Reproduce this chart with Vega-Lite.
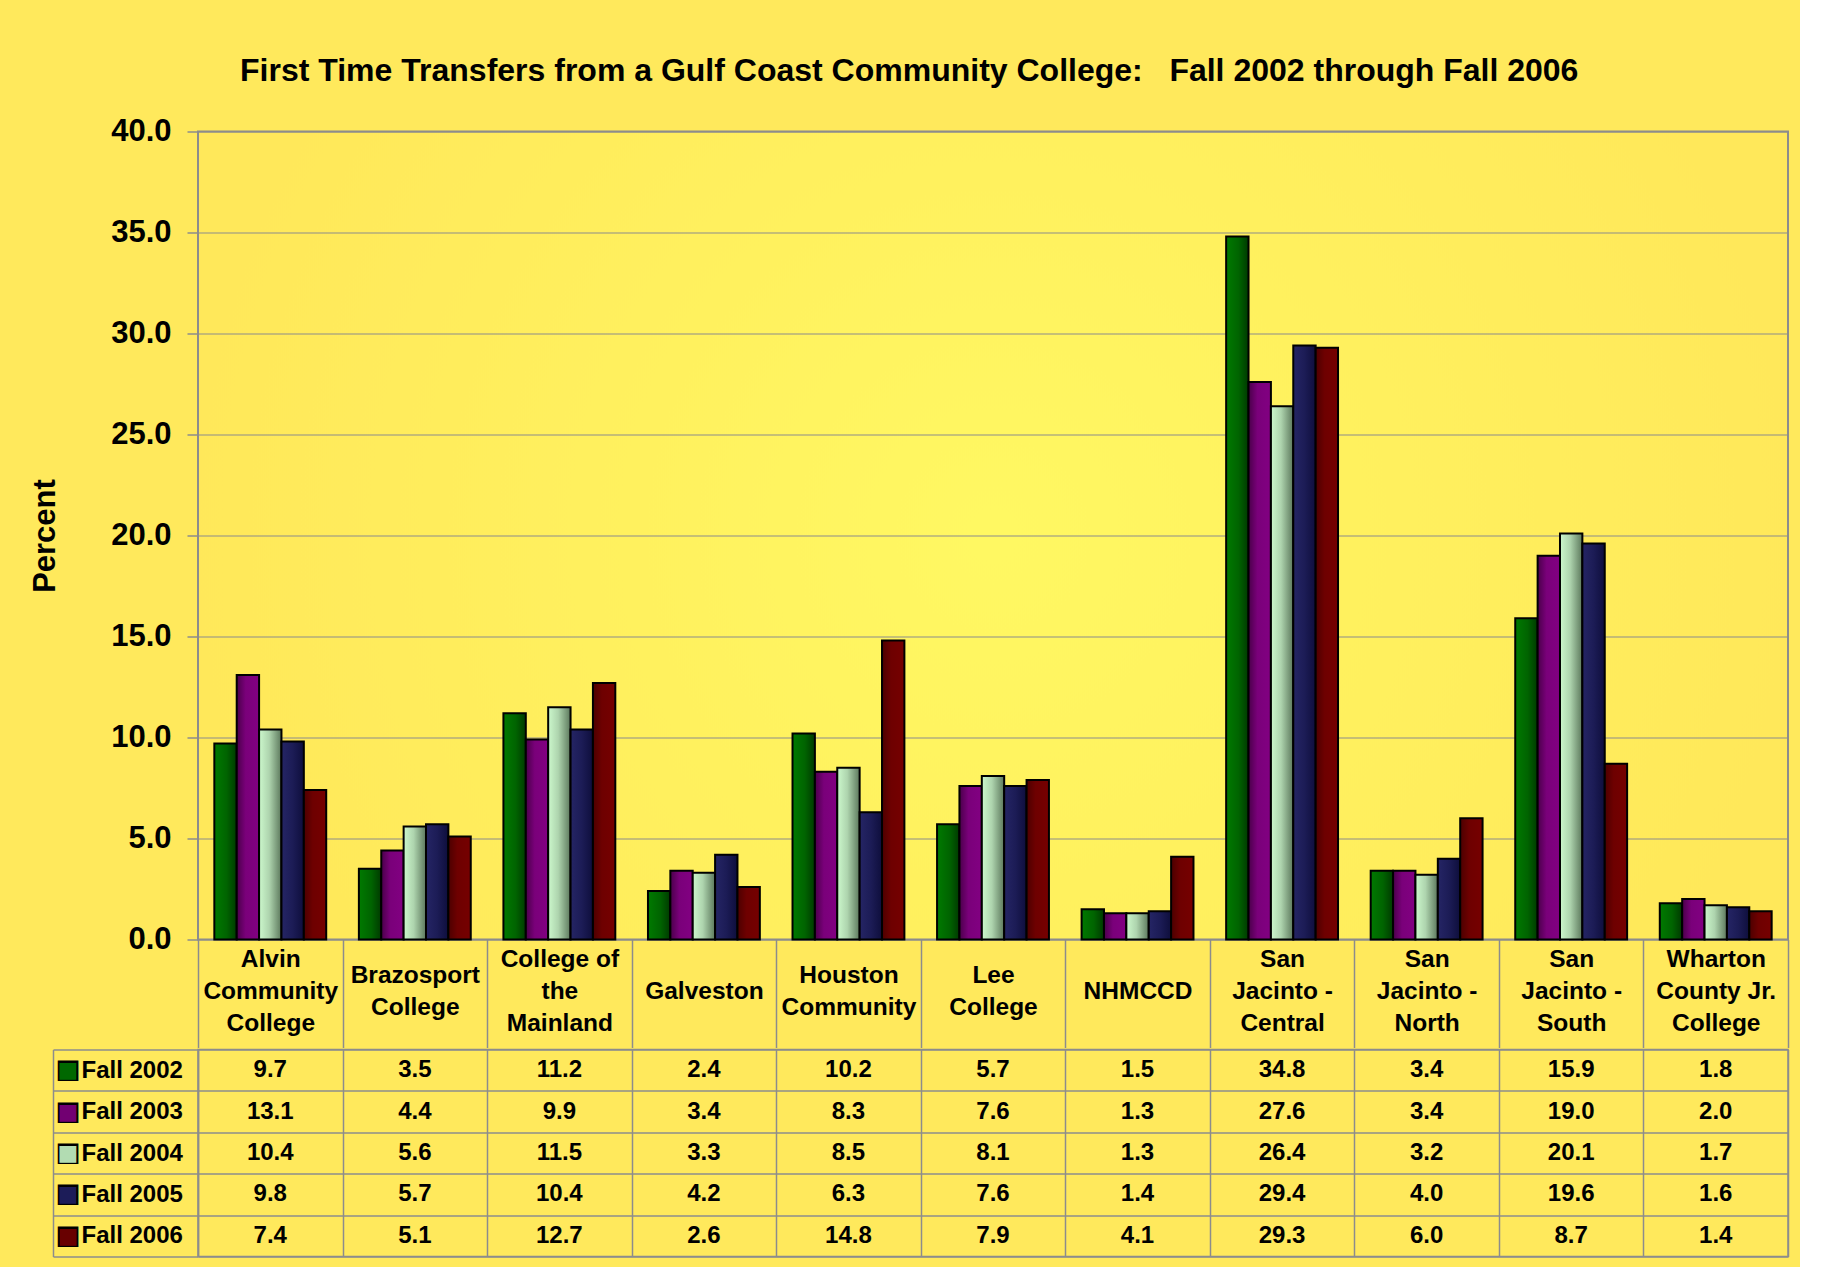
{
  "$schema": "https://vega.github.io/schema/vega-lite/v6.json",
  "background": "#FFE95C",
  "padding": {"left": 28, "top": 54.5, "right": 10, "bottom": 8},
  "title": {
    "text": "First Time Transfers from a Gulf Coast Community College:\u00a0\u00a0 Fall 2002 through Fall 2006",
    "font": "Liberation Sans", "fontSize": 32, "fontWeight": "bold", "color": "black",
    "anchor": "middle", "offset": 26.5
  },
  "config": {"font": "Liberation Sans", "view": {"stroke": null}},
  "datasets": {
    "transfers": [
      {"college": "Alvin Community College", "year": "Fall 2002", "percent": 9.7},
      {"college": "Alvin Community College", "year": "Fall 2003", "percent": 13.1},
      {"college": "Alvin Community College", "year": "Fall 2004", "percent": 10.4},
      {"college": "Alvin Community College", "year": "Fall 2005", "percent": 9.8},
      {"college": "Alvin Community College", "year": "Fall 2006", "percent": 7.4},
      {"college": "Brazosport College", "year": "Fall 2002", "percent": 3.5},
      {"college": "Brazosport College", "year": "Fall 2003", "percent": 4.4},
      {"college": "Brazosport College", "year": "Fall 2004", "percent": 5.6},
      {"college": "Brazosport College", "year": "Fall 2005", "percent": 5.7},
      {"college": "Brazosport College", "year": "Fall 2006", "percent": 5.1},
      {"college": "College of the Mainland", "year": "Fall 2002", "percent": 11.2},
      {"college": "College of the Mainland", "year": "Fall 2003", "percent": 9.9},
      {"college": "College of the Mainland", "year": "Fall 2004", "percent": 11.5},
      {"college": "College of the Mainland", "year": "Fall 2005", "percent": 10.4},
      {"college": "College of the Mainland", "year": "Fall 2006", "percent": 12.7},
      {"college": "Galveston", "year": "Fall 2002", "percent": 2.4},
      {"college": "Galveston", "year": "Fall 2003", "percent": 3.4},
      {"college": "Galveston", "year": "Fall 2004", "percent": 3.3},
      {"college": "Galveston", "year": "Fall 2005", "percent": 4.2},
      {"college": "Galveston", "year": "Fall 2006", "percent": 2.6},
      {"college": "Houston Community", "year": "Fall 2002", "percent": 10.2},
      {"college": "Houston Community", "year": "Fall 2003", "percent": 8.3},
      {"college": "Houston Community", "year": "Fall 2004", "percent": 8.5},
      {"college": "Houston Community", "year": "Fall 2005", "percent": 6.3},
      {"college": "Houston Community", "year": "Fall 2006", "percent": 14.8},
      {"college": "Lee College", "year": "Fall 2002", "percent": 5.7},
      {"college": "Lee College", "year": "Fall 2003", "percent": 7.6},
      {"college": "Lee College", "year": "Fall 2004", "percent": 8.1},
      {"college": "Lee College", "year": "Fall 2005", "percent": 7.6},
      {"college": "Lee College", "year": "Fall 2006", "percent": 7.9},
      {"college": "NHMCCD", "year": "Fall 2002", "percent": 1.5},
      {"college": "NHMCCD", "year": "Fall 2003", "percent": 1.3},
      {"college": "NHMCCD", "year": "Fall 2004", "percent": 1.3},
      {"college": "NHMCCD", "year": "Fall 2005", "percent": 1.4},
      {"college": "NHMCCD", "year": "Fall 2006", "percent": 4.1},
      {"college": "San Jacinto - Central", "year": "Fall 2002", "percent": 34.8},
      {"college": "San Jacinto - Central", "year": "Fall 2003", "percent": 27.6},
      {"college": "San Jacinto - Central", "year": "Fall 2004", "percent": 26.4},
      {"college": "San Jacinto - Central", "year": "Fall 2005", "percent": 29.4},
      {"college": "San Jacinto - Central", "year": "Fall 2006", "percent": 29.3},
      {"college": "San Jacinto - North", "year": "Fall 2002", "percent": 3.4},
      {"college": "San Jacinto - North", "year": "Fall 2003", "percent": 3.4},
      {"college": "San Jacinto - North", "year": "Fall 2004", "percent": 3.2},
      {"college": "San Jacinto - North", "year": "Fall 2005", "percent": 4.0},
      {"college": "San Jacinto - North", "year": "Fall 2006", "percent": 6.0},
      {"college": "San Jacinto - South", "year": "Fall 2002", "percent": 15.9},
      {"college": "San Jacinto - South", "year": "Fall 2003", "percent": 19.0},
      {"college": "San Jacinto - South", "year": "Fall 2004", "percent": 20.1},
      {"college": "San Jacinto - South", "year": "Fall 2005", "percent": 19.6},
      {"college": "San Jacinto - South", "year": "Fall 2006", "percent": 8.7},
      {"college": "Wharton County Jr. College", "year": "Fall 2002", "percent": 1.8},
      {"college": "Wharton County Jr. College", "year": "Fall 2003", "percent": 2.0},
      {"college": "Wharton County Jr. College", "year": "Fall 2004", "percent": 1.7},
      {"college": "Wharton County Jr. College", "year": "Fall 2005", "percent": 1.6},
      {"college": "Wharton County Jr. College", "year": "Fall 2006", "percent": 1.4}
    ]
  },
  "spacing": -20.5,
  "vconcat": [
    {
      "width": 1590,
      "height": 808,
      "data": {"name": "transfers"},
      "view": {
        "stroke": "#8c8c8c", "strokeWidth": 2,
        "fill": {"gradient": "radial", "stops": [{"offset": 0, "color": "#FFF862"}, {"offset": 1, "color": "#FFE85A"}]}
      },
      "encoding": {
        "x": {
          "field": "college", "type": "nominal",
          "scale": {"domain": ["Alvin Community College", "Brazosport College", "College of the Mainland", "Galveston", "Houston Community", "Lee College", "NHMCCD", "San Jacinto - Central", "San Jacinto - North", "San Jacinto - South", "Wharton County Jr. College"], "paddingInner": 0, "paddingOuter": 0},
          "axis": {
            "title": null, "orient": "bottom", "domain": false, "grid": false,
            "tickBand": "extent", "ticks": true, "tickSize": 108, "tickColor": "#8c8c8c", "tickWidth": 1.5,
            "labelPadding": -72, "labelAngle": 0, "labelAlign": "center",
            "labelBaseline": {
              "condition": [
                {"test": "indexof(['Galveston','NHMCCD'], datum.value) >= 0", "value": "line-top"},
                {"test": "indexof(['Brazosport College','Houston Community','Lee College'], datum.value) >= 0", "value": "middle"}
              ],
              "value": "line-bottom"
            },
            "labelFont": "Liberation Sans", "labelFontSize": 24.5, "labelFontWeight": "bold", "labelColor": "black",
            "labelLineHeight": 32, "labelLimit": 0,
            "labelExpr": "{'Alvin Community College':['Alvin','Community','College'],'Brazosport College':['Brazosport','College'],'College of the Mainland':['College of','the','Mainland'],'Galveston':'Galveston','Houston Community':['Houston','Community'],'Lee College':['Lee','College'],'NHMCCD':'NHMCCD','San Jacinto - Central':['San','Jacinto -','Central'],'San Jacinto - North':['San','Jacinto -','North'],'San Jacinto - South':['San','Jacinto -','South'],'Wharton County Jr. College':['Wharton','County Jr.','College']}[datum.label]"
          }
        },
        "xOffset": {
          "field": "year", "type": "nominal",
          "scale": {"domain": ["Fall 2002", "Fall 2003", "Fall 2004", "Fall 2005", "Fall 2006"], "paddingInner": 0, "paddingOuter": 0.73}
        },
        "y": {
          "field": "percent", "type": "quantitative",
          "scale": {"domain": [0, 40], "nice": false, "zero": true},
          "axis": {
            "title": "Percent", "titleFont": "Liberation Sans", "titleFontSize": 31, "titleFontWeight": "bold", "titleColor": "black", "titlePadding": 49,
            "values": [0, 5, 10, 15, 20, 25, 30, 35, 40], "format": ".1f",
            "labelFont": "Liberation Sans", "labelFontSize": 31, "labelFontWeight": "bold", "labelColor": "black", "labelPadding": 16, "labelFlush": false,
            "tickSize": 11, "tickColor": "#8c8c8c", "tickWidth": 1.5,
            "domain": false, "grid": true, "gridColor": "#8c8c8c", "gridWidth": 1.2
          }
        }
      },
      "layer": [
        {
          "transform": [{"filter": "datum.year === 'Fall 2002'"}],
          "mark": {"type": "bar", "stroke": "black", "strokeWidth": 2,
            "fill": {"gradient": "linear", "x1": 0, "x2": 1, "y1": 0, "y2": 0, "stops": [{"offset": 0, "color": "#007a00"}, {"offset": 0.55, "color": "#006400"}, {"offset": 1, "color": "#003a00"}]}}
        },
        {
          "transform": [{"filter": "datum.year === 'Fall 2003'"}],
          "mark": {"type": "bar", "stroke": "black", "strokeWidth": 2,
            "fill": {"gradient": "linear", "x1": 0, "x2": 1, "y1": 0, "y2": 0, "stops": [{"offset": 0, "color": "#4a004a"}, {"offset": 0.4, "color": "#7a007a"}, {"offset": 1, "color": "#820082"}]}}
        },
        {
          "transform": [{"filter": "datum.year === 'Fall 2004'"}],
          "mark": {"type": "bar", "stroke": "black", "strokeWidth": 2,
            "fill": {"gradient": "linear", "x1": 0, "x2": 1, "y1": 0, "y2": 0, "stops": [{"offset": 0, "color": "#ccf8cc"}, {"offset": 0.45, "color": "#aed4ae"}, {"offset": 1, "color": "#5c785c"}]}}
        },
        {
          "transform": [{"filter": "datum.year === 'Fall 2005'"}],
          "mark": {"type": "bar", "stroke": "black", "strokeWidth": 2,
            "fill": {"gradient": "linear", "x1": 0, "x2": 1, "y1": 0, "y2": 0, "stops": [{"offset": 0, "color": "#252565"}, {"offset": 0.5, "color": "#1c1c56"}, {"offset": 1, "color": "#0e0e3c"}]}}
        },
        {
          "transform": [{"filter": "datum.year === 'Fall 2006'"}],
          "mark": {"type": "bar", "stroke": "black", "strokeWidth": 2,
            "fill": {"gradient": "linear", "x1": 0, "x2": 1, "y1": 0, "y2": 0, "stops": [{"offset": 0, "color": "#4c0000"}, {"offset": 0.4, "color": "#6e0000"}, {"offset": 1, "color": "#760000"}]}}
        }
      ]
    },
    {
      "width": 1590,
      "height": 207,
      "data": {"name": "transfers"},
      "view": {"stroke": "#8c8c8c", "strokeWidth": 1.5},
      "encoding": {
        "x": {
          "field": "college", "type": "nominal",
          "scale": {"domain": ["Alvin Community College", "Brazosport College", "College of the Mainland", "Galveston", "Houston Community", "Lee College", "NHMCCD", "San Jacinto - Central", "San Jacinto - North", "San Jacinto - South", "Wharton County Jr. College"], "paddingInner": 0, "paddingOuter": 0},
          "axis": {"title": null, "labels": false, "ticks": false, "domain": false, "grid": true, "tickBand": "extent", "gridColor": "#8c8c8c", "gridWidth": 1.5}
        }
      },
      "layer": [
        {
          "mark": {"type": "text", "font": "Liberation Sans", "fontSize": 24, "fontWeight": "bold", "color": "black", "baseline": "middle"},
          "encoding": {
            "y": {
              "field": "year", "type": "nominal",
              "scale": {"domain": ["Fall 2002", "Fall 2003", "Fall 2004", "Fall 2005", "Fall 2006"], "paddingInner": 0, "paddingOuter": 0},
              "axis": {
                "title": null, "orient": "left", "tickBand": "extent", "tickSize": 145, "tickColor": "#8c8c8c", "tickWidth": 1.5,
                "domain": true, "domainColor": "#8c8c8c", "domainWidth": 1.5,
                "grid": true, "gridColor": "#8c8c8c", "gridWidth": 1.5,
                "labelAlign": "left", "labelPadding": -28, "labelBaseline": "middle",
                "labelFont": "Liberation Sans", "labelFontSize": 24, "labelFontWeight": "bold", "labelColor": "black"
              }
            },
            "text": {"field": "percent", "type": "quantitative", "format": ".1f"}
          }
        },
        {
          "mark": {"type": "text", "text": "", "opacity": 0},
          "encoding": {
            "y": {
              "field": "year", "type": "nominal",
              "scale": {"domain": ["Fall 2002", "Fall 2003", "Fall 2004", "Fall 2005", "Fall 2006"], "paddingInner": 0, "paddingOuter": 0},
              "axis": {
                "title": null, "orient": "left", "offset": 145, "ticks": false, "grid": false,
                "domain": true, "domainColor": "#8c8c8c", "domainWidth": 1.5,
                "labelExpr": "'\u25a0'", "labelAlign": "center", "labelPadding": -14.5, "labelBaseline": "middle",
                "labelFont": "DejaVu Sans", "labelFontSize": 27, "labelColor": "black"
              }
            }
          }
        },
        {
          "mark": {"type": "text", "text": "", "opacity": 0},
          "encoding": {
            "y": {
              "field": "year", "type": "nominal",
              "scale": {"domain": ["Fall 2002", "Fall 2003", "Fall 2004", "Fall 2005", "Fall 2006"], "paddingInner": 0, "paddingOuter": 0},
              "axis": {
                "title": null, "orient": "left", "offset": 145, "ticks": false, "grid": false, "domain": false,
                "labelExpr": "'\u25a0'", "labelAlign": "center", "labelPadding": -14.5, "labelBaseline": "middle",
                "labelFont": "DejaVu Sans", "labelFontSize": 22,
                "labelColor": {
                  "condition": [
                    {"test": "datum.value === 'Fall 2002'", "value": "#006800"},
                    {"test": "datum.value === 'Fall 2003'", "value": "#720072"},
                    {"test": "datum.value === 'Fall 2004'", "value": "#b2dcb2"},
                    {"test": "datum.value === 'Fall 2005'", "value": "#1c1c58"}
                  ],
                  "value": "#680000"
                }
              }
            }
          }
        }
      ],
      "resolve": {"axis": {"y": "independent"}}
    }
  ]
}
